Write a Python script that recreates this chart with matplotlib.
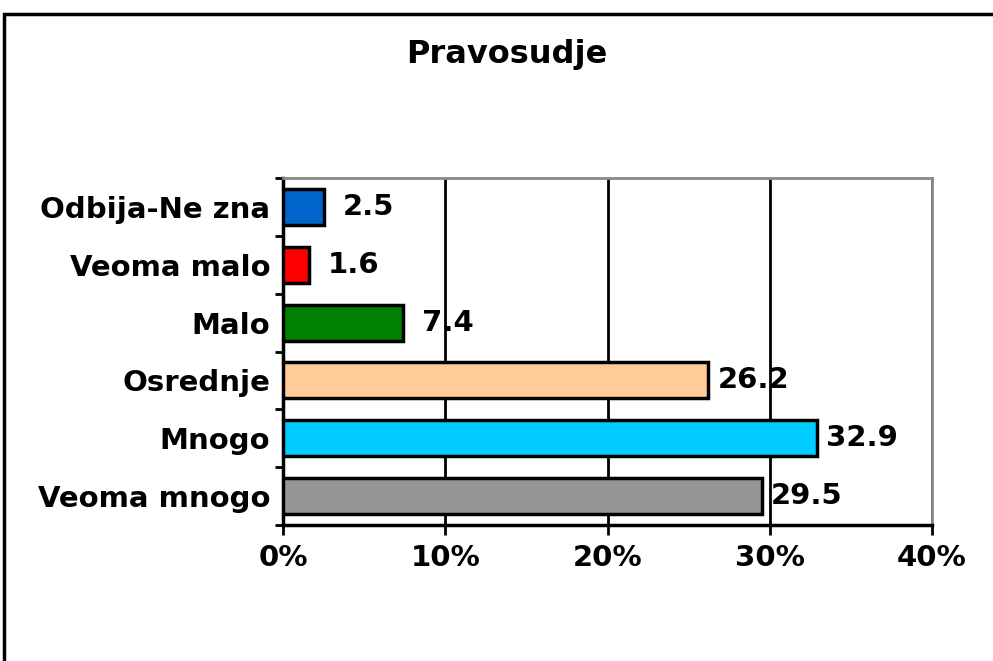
import matplotlib

matplotlib.use("Agg")

import matplotlib.pyplot as plt
from matplotlib.patches import Rectangle
from matplotlib.ticker import FixedLocator

categories = ["Veoma mnogo", "Mnogo", "Osrednje", "Malo", "Veoma malo", "Odbija-Ne zna"]
values = [29.5, 32.9, 26.2, 7.4, 1.6, 2.5]
colors = ["#969696", "#00CCFF", "#FFCC99", "#008000", "#FF0000", "#0066CC"]
x_ticks = [0, 10, 20, 30, 40]
x_labels = ["0%", "10%", "20%", "30%", "40%"]

plt.rcParams["font.family"] = ["DejaVu Sans"]
plt.rcParams["font.weight"] = "bold"

fig = plt.figure(figsize=(9.93, 6.61), dpi=100)
fig.add_artist(Rectangle((4 / 993, -0.1), 1.2, 1 - 14 / 661 + 0.1, transform=fig.transFigure,
                         fill=False, edgecolor="black", linewidth=2.5))

axis = fig.add_axes([283 / 993, 1 - 525 / 661, 649 / 993, 347 / 661])
positions = list(range(len(categories)))
axis.barh(positions, values, height=0.62, color=colors, edgecolor="black", linewidth=2.5, zorder=3)

for pos, val in zip(positions, values):
    axis.annotate(f"{val:.1f}", (val, pos), xytext=(45, 0), textcoords="offset pixels",
                  ha="center", va="center", fontsize=21, fontweight="bold", zorder=4)

axis.set_xlim(0, 40)
axis.set_ylim(-0.5, len(categories) - 0.5)
axis.set_xticks(x_ticks)
axis.set_xticklabels(x_labels, fontsize=21, fontweight="bold")
axis.set_yticks(positions)
axis.set_yticklabels(categories, fontsize=21, fontweight="bold")
axis.yaxis.set_minor_locator(FixedLocator([p - 0.5 for p in positions] + [len(categories) - 0.5]))
axis.tick_params(axis="y", which="major", length=0, pad=9)
axis.tick_params(axis="y", which="minor", length=6, width=2, direction="out")
axis.tick_params(axis="x", length=7, width=2, direction="out", pad=7)

axis.grid(True, axis="x", color="black", linewidth=2, zorder=1)
axis.spines["top"].set_color("#888888")
axis.spines["right"].set_color("#888888")
axis.spines["top"].set_linewidth(2)
axis.spines["right"].set_linewidth(2)
axis.spines["left"].set_linewidth(2.5)
axis.spines["bottom"].set_linewidth(2.5)

fig.text(507 / 993, 1 - 55 / 661, "Pravosudje", ha="center", va="center", fontsize=23, fontweight="bold")

fig.savefig("out.png", dpi=100)
plt.close(fig)
